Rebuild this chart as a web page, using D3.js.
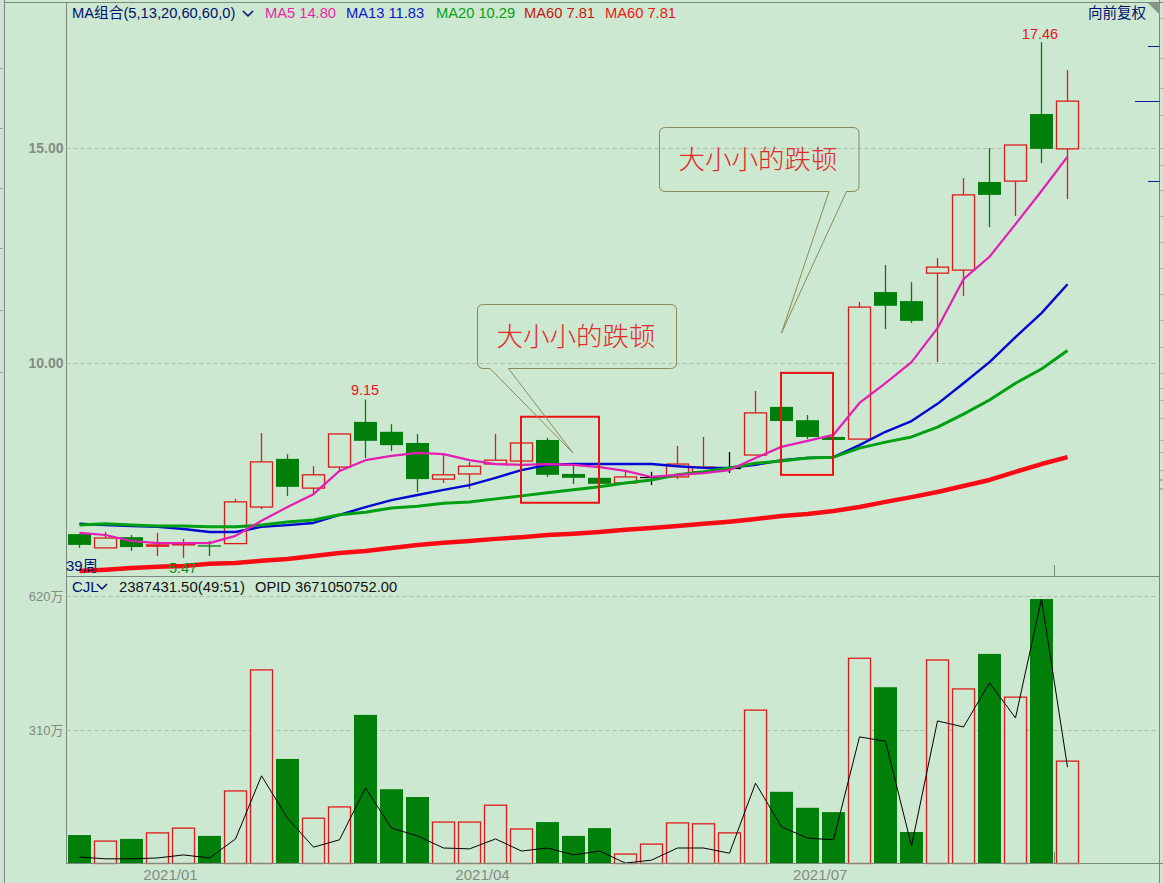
<!DOCTYPE html>
<html><head><meta charset="utf-8">
<script src="https://cdn.jsdelivr.net/npm/d3@7"></script>
<style>
html,body{margin:0;padding:0;background:#cde8d0;overflow:hidden}
svg{display:block}
text{font-family:"Liberation Sans","Noto Sans CJK SC",sans-serif}
</style></head><body><svg id="c" width="1163" height="883"></svg>
<script>
const open_  =[6.02,5.70,5.95,5.74,5.77,5.76,5.80,6.65,7.77,7.09,7.58,8.63,8.40,8.14,7.30,7.42,7.65,7.72,8.21,7.42,7.33,7.21,7.35,7.35,7.47,7.56,7.86,8.98,8.67,8.28,8.23,11.65,11.44,12.09,12.16,14.21,14.23,15.79,14.98];
const close_ =[5.77,5.93,5.72,5.77,5.80,5.73,6.77,7.70,7.12,7.40,8.35,8.19,8.09,7.30,7.40,7.60,7.74,8.14,7.40,7.33,7.19,7.35,7.35,7.65,7.58,7.56,8.84,8.65,8.28,8.21,11.30,11.33,10.98,12.23,13.91,13.91,15.07,14.98,16.09];
const high_  =[6.02,6.07,6.00,6.05,5.91,5.86,6.84,8.37,7.88,7.60,8.35,9.15,8.58,8.35,7.91,7.70,8.35,8.14,8.26,7.63,7.33,7.47,7.47,8.07,8.28,7.93,9.35,8.98,8.79,8.28,11.42,12.28,11.88,12.44,14.30,15.00,15.07,17.46,16.81];
const low_   =[5.70,5.70,5.63,5.51,5.47,5.51,5.80,6.60,6.91,6.98,7.47,7.79,7.95,7.00,7.21,7.07,7.65,7.72,7.35,7.19,7.09,7.21,7.16,7.30,7.47,7.44,7.86,8.65,8.23,8.21,8.23,10.79,10.93,10.02,11.56,13.16,13.42,14.65,13.81];
const ma5    =[6.05,6.00,5.86,5.81,5.81,5.81,5.98,6.33,6.65,6.95,7.49,7.74,7.84,7.91,7.88,7.74,7.65,7.63,7.65,7.63,7.58,7.49,7.35,7.40,7.44,7.51,7.79,8.05,8.19,8.33,9.07,9.53,10.02,10.81,11.95,12.47,13.23,14.00,14.80];
const ma13   =[6.26,6.23,6.21,6.19,6.14,6.07,6.07,6.19,6.23,6.28,6.47,6.65,6.81,6.93,7.05,7.16,7.33,7.51,7.63,7.65,7.65,7.65,7.65,7.60,7.56,7.56,7.63,7.74,7.79,7.81,8.09,8.40,8.65,9.05,9.53,10.02,10.60,11.16,11.83];
const ma20   =[6.23,6.26,6.23,6.21,6.21,6.19,6.19,6.23,6.30,6.35,6.47,6.53,6.63,6.67,6.74,6.77,6.84,6.91,6.98,7.05,7.12,7.21,7.28,7.40,7.47,7.56,7.67,7.72,7.79,7.81,8.02,8.16,8.28,8.51,8.81,9.14,9.53,9.86,10.29];
const ma60   =[5.16,5.19,5.23,5.26,5.28,5.33,5.35,5.40,5.44,5.51,5.58,5.63,5.70,5.77,5.82,5.86,5.91,5.95,6.00,6.03,6.07,6.12,6.16,6.21,6.26,6.31,6.37,6.44,6.49,6.56,6.65,6.77,6.88,7.00,7.14,7.28,7.47,7.65,7.81];
const volume =[67,53,58,72,83,65,169,449,243,106,132,345,173,155,97,97,136,81,97,65,83,23,46,95,93,72,356,167,130,120,476,409,74,472,405,486,386,613,238];
const volMA  =[16,12,12,14,21,14,58,204,106,39,56,176,83,65,37,35,58,30,37,21,30,2,9,37,37,25,187,86,60,56,294,284,42,331,317,419,338,613,224];
const priceTicks=[15,10];
const volTicks=[620,310];
const dateTicks=[3.48,15.48,28.47];
const dateLabels=["2021/01","2021/04","2021/07"];
const note="大小小的跌顿";

const BG="#cde8d0",RED="#de1c1c",GREEN="#007f0a",FRAME="#7b8a7d",GREY="#838b84",NAVY="#00106e";
const svg=d3.select("#c");
const n=open_.length,idx=d3.range(n);
const x=d3.scaleLinear().domain([0,n-1]).range([79.5,1067.5]);
const y=d3.scaleLinear().domain([10,15]).range([363,148]);
const yv=d3.scaleLinear().domain([0,310]).range([864,730]);
const L=66.5,R=1159.5,T=2.5,M=576.5,B=863.5;

svg.append("rect").attr("width",1163).attr("height",883).attr("fill",BG);
svg.append("rect").attr("width",4.5).attr("height",883).attr("fill","#d3dfd6");
// outer frame
const fr=svg.append("g").attr("stroke",FRAME).attr("fill","none");
fr.append("path").attr("d",`M4.5,0V883M${L},${T}V${B}M4.5,${T}H1163M${L},${M}H${R}M${L},${B}H1163M${R},0V883M${R},480H1163M${R},489H1163`);
svg.append("path").attr("d","M1148,3H1160V15Z").attr("fill","#8a938c");
fr.append("path").attr("d",`M1054.5,565V576M1054.5,852V863`);
// frame edge marks
const sideR=[18,58,88,115,148,165,190,216,242,268,294,320,347,373,388,400,418,440,452,470];
const sideL=[68,128,188,248,310,372];
svg.append("g").attr("stroke","#a8a888").selectAll("line").data(sideR).join("line").attr("x1",R+1).attr("x2",1163).attr("y1",d=>d+.5).attr("y2",d=>d+.5);
svg.append("g").attr("stroke","#9aa69c").selectAll("line").data(sideL).join("line").attr("x1",0).attr("x2",3).attr("y1",d=>d+.5).attr("y2",d=>d+.5);

// axes
function gridAxis(scale,ticks,fmt){
  const g=svg.append("g").attr("transform",`translate(${L},0)`).call(d3.axisLeft(scale).tickValues(ticks).tickFormat(fmt).tickSize(-(R-L)).tickPadding(3));
  g.select(".domain").remove();
  g.selectAll("line").attr("stroke","#a9bfa9").attr("stroke-dasharray","4 3").attr("stroke-width",1);
  return g;
}
const gp=gridAxis(y,priceTicks,d3.format(".2f"));
gp.selectAll("text").attr("fill",GREY).attr("font-size",14).attr("font-weight","bold").style("font-family",'"Liberation Sans",sans-serif');
const gv=gridAxis(yv,volTicks,d=>d+"万");
gv.selectAll("text").attr("fill",GREY).attr("font-size",13).style("font-family",'"Liberation Sans","Noto Sans CJK SC",sans-serif');
const gx=svg.append("g").attr("transform",`translate(0,${B})`).call(d3.axisBottom(x).tickValues(dateTicks).tickFormat((d,i)=>dateLabels[i]).tickSize(0).tickPadding(6));
gx.select(".domain").remove();
gx.selectAll("text").attr("fill",GREY).attr("font-size",15).style("font-family",'"Liberation Sans",sans-serif');

// right side ticks
const rt=svg.append("g").attr("stroke","#0a1e9a").attr("stroke-width",1);
[[1148,46],[1135,101],[1148,181]].forEach(a=>rt.append("line").attr("x1",a[0]).attr("x2",R).attr("y1",a[1]+.5).attr("y2",a[1]+.5));

const col=i=>open_[i]===close_[i]?"#000":(close_[i]>open_[i]?RED:GREEN);
const isUp=i=>close_[i]>=open_[i];
// candles
const cg=svg.append("g");
cg.selectAll("line.w").data(idx).join("line").attr("class","w")
 .attr("x1",x).attr("x2",x).attr("y1",i=>y(high_[i])).attr("y2",i=>y(low_[i]))
 .attr("stroke",col).attr("stroke-width",1.3);
cg.selectAll("rect.b").data(idx).join("rect").attr("class","b")
 .attr("x",i=>isUp(i)&&open_[i]!==close_[i]?x(i)-11:x(i)-11.5)
 .attr("width",i=>isUp(i)&&open_[i]!==close_[i]?22:23)
 .attr("y",i=>y(Math.max(open_[i],close_[i])))
 .attr("height",i=>Math.max(1.2,Math.abs(y(open_[i])-y(close_[i]))))
 .attr("fill",i=>open_[i]===close_[i]?"#000":(isUp(i)?BG:GREEN))
 .attr("stroke",i=>open_[i]===close_[i]?"none":(isUp(i)?RED:"none"))
 .attr("stroke-width",1.3);

// moving averages
const lineOf=a=>d3.line().x((d,i)=>x(i)).y(d=>y(d))(a);
[[ma60,"#fa0a14",4.5],[ma13,"#0008d2",2.4],[ma20,"#00a012",3],[ma5,"#e41eb4",2.2]].forEach(s=>{
  svg.append("path").attr("d",lineOf(s[0])).attr("fill","none").attr("stroke",s[1]).attr("stroke-width",s[2]).attr("stroke-linejoin","round");
});

// volume
const vg=svg.append("g");
vg.selectAll("rect").data(idx).join("rect")
 .attr("x",i=>isUp(i)?x(i)-11:x(i)-11.5)
 .attr("width",i=>isUp(i)?22:23)
 .attr("y",i=>yv(volume[i]))
 .attr("height",i=>B-yv(volume[i]))
 .attr("fill",i=>isUp(i)?BG:GREEN)
 .attr("stroke",i=>isUp(i)?RED:"none").attr("stroke-width",1.3);
svg.append("path").attr("d",d3.line().x((d,i)=>x(i)).y(d=>yv(d))(volMA)).attr("fill","none").attr("stroke","#000").attr("stroke-width",1);
svg.append("path").attr("d",`M${L},${B}H1163`).attr("stroke",FRAME);

// boxes
const boxes=[[x(17)-.5,y(8.75),78,86],[x(27)-.5,y(9.77),52,102]];
boxes.forEach(b=>svg.append("rect").attr("x",b[0]).attr("y",b[1]).attr("width",b[2]).attr("height",b[3]).attr("fill","none").attr("stroke","#ee1111").attr("stroke-width",2));

// callouts
function callout(x0,y0,w,h,t1,tip,t2,cx,cy){
  const r=6,x1=x0+w,y1=y0+h;
  const d=`M${x0+r},${y0}H${x1-r}Q${x1},${y0} ${x1},${y0+r}V${y1-r}Q${x1},${y1} ${x1-r},${y1}H${t2}L${tip[0]},${tip[1]}L${t1},${y1}H${x0+r}Q${x0},${y1} ${x0},${y1-r}V${y0+r}Q${x0},${y0} ${x0+r},${y0}Z`;
  svg.append("path").attr("d",d).attr("fill","none").attr("stroke","#878a5c").attr("stroke-width",1);
  svg.append("text").attr("x",cx).attr("y",cy).attr("text-anchor","middle").attr("dominant-baseline","central").attr("fill","#e42a2a").attr("font-size",26.5).attr("font-weight",300).style("font-family",'"Noto Sans CJK SC",sans-serif').text(note);
}
callout(477.5,304.5,199,64,490,[573,453],508.5,576,334.5);
callout(659.5,127.5,199.5,64,829,[781.5,333],846.5,758,157.5);

// texts
function T_(s,px,py,fill,size,anchor){
  return svg.append("text").attr("x",px).attr("y",py).attr("fill",fill).attr("font-size",size||14).attr("text-anchor",anchor||"start").text(s);
}
T_("MA组合(5,13,20,60,60,0)",72,18,NAVY,14.7);
T_("MA5 14.80",265,18,"#f01eaa",14.7);
T_("MA13 11.83",346,18,"#0a14d2",14.7);
T_("MA20 10.29",436,18,"#08a014",14.7);
T_("MA60 7.81",524,18,"#c81414",14.7);
T_("MA60 7.81",605,18,"#f01414",14.7);
T_("向前复权",1088,18,NAVY,14.5);
T_("17.46",1040,39,"#e8141e",14.5,"middle");
T_("9.15",365,395,"#e8141e",14.5,"middle");
T_("5.47",183,573,"#108a20",14.5,"middle");
T_("39周",66,571,NAVY,15);
T_("CJL",72,592,NAVY,15);
T_("2387431.50(49:51)",119,592,"#111",14.9);
T_("OPID 3671050752.00",255,592,"#111",14.7);
// chevrons
[[243,11],[97,584]].forEach(c=>svg.append("path").attr("d",`M${c[0]},${c[1]}l5,5l5,-5`).attr("fill","none").attr("stroke",NAVY).attr("stroke-width",1.5));
</script></body></html>
